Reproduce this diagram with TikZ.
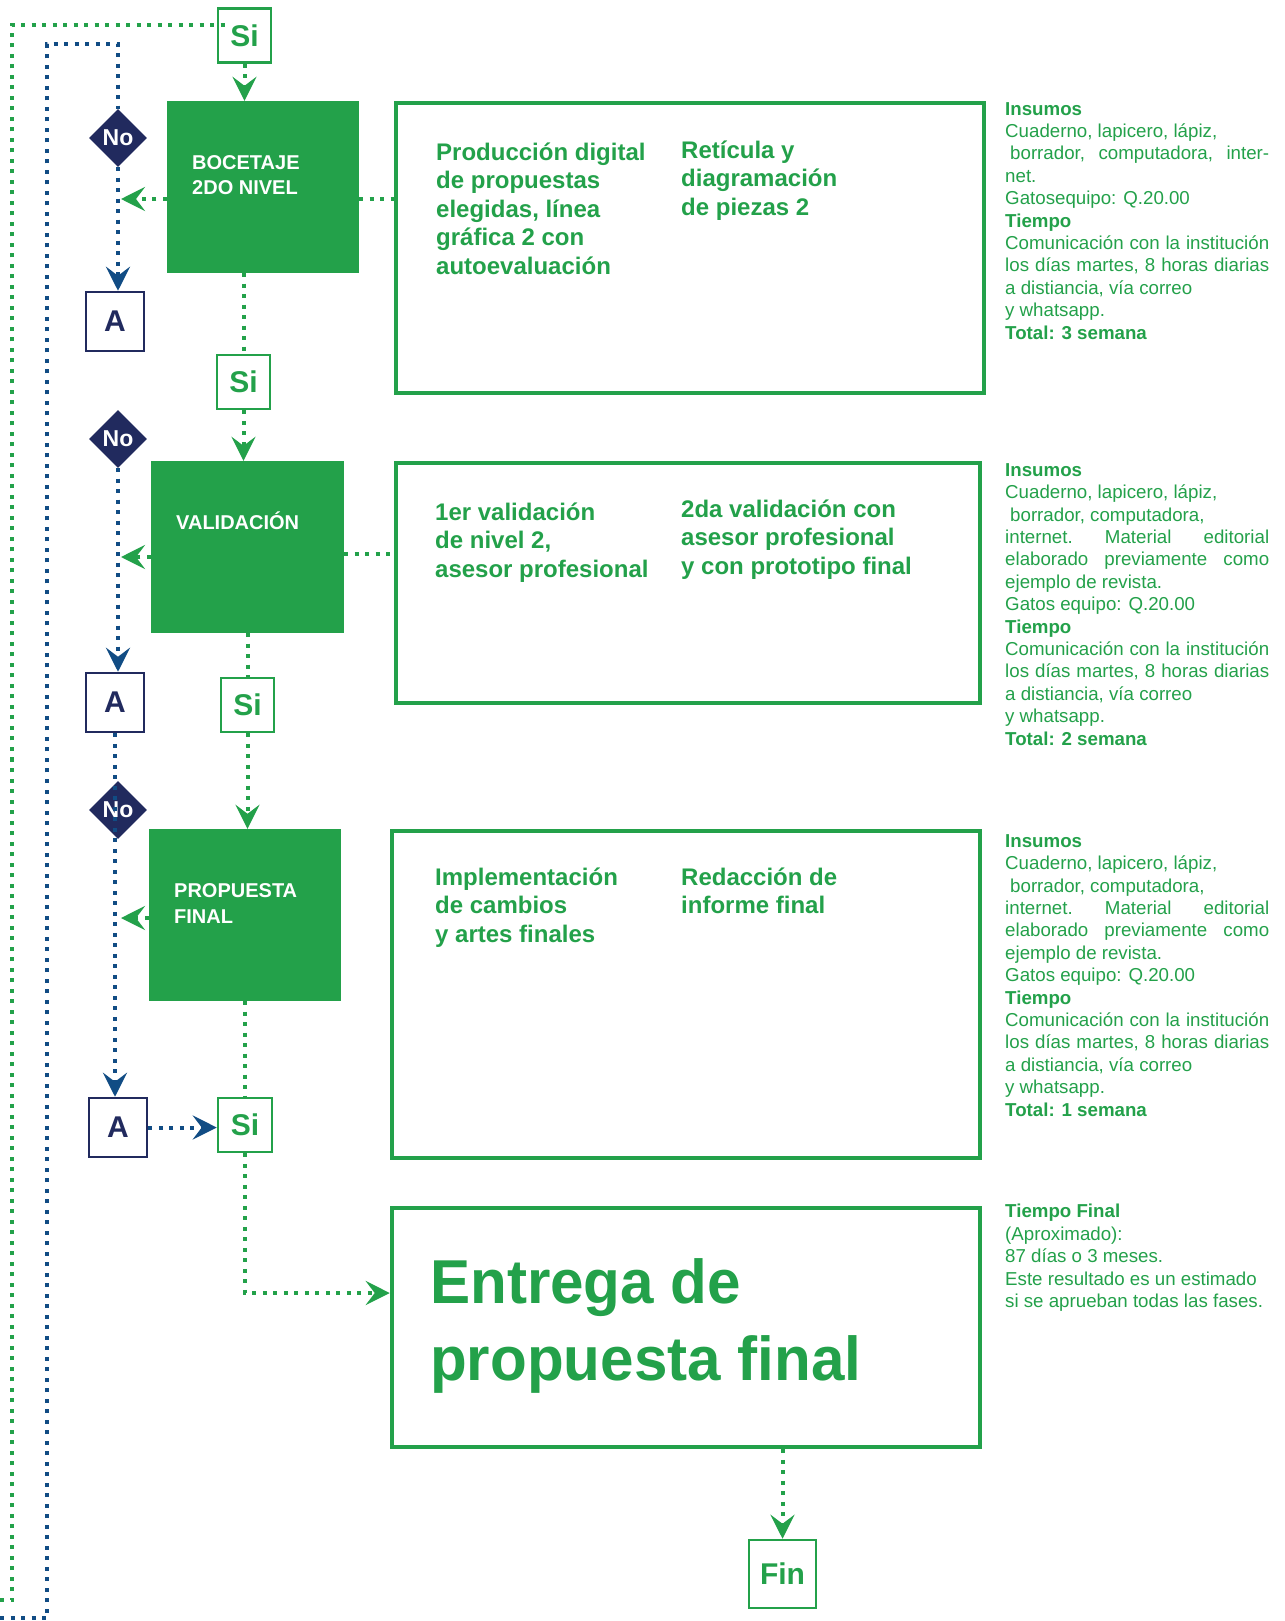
\documentclass[tikz,border=0pt]{standalone}
\usepackage{fontspec}
\setmainfont{Liberation Sans}
\newfontfamily\headlinefont[FakeStretch=0.97]{Liberation Sans}
\usetikzlibrary{shapes.geometric,arrows.meta}
\definecolor{G}{HTML}{23A14A}
\definecolor{NV}{HTML}{212A5E}
\definecolor{BL}{HTML}{114C84}

\begin{document}
\begin{tikzpicture}[x=1bp,y=-1bp,
  gdot/.style={draw=G, line width=4bp, dash pattern=on 4bp off 6.5bp},
  bdot/.style={draw=BL, line width=4bp, dash pattern=on 4bp off 6.5bp},
  gtip/.style={-{Stealth[length=24bp,width=24bp,inset=9bp]}},
  stage/.style={fill=G, inner sep=0, minimum width=192bp, minimum height=172bp},
  stagelabel/.style={text=white, font=\fontsize{20bp}{25.5bp}\selectfont\bfseries, align=left, inner sep=0, anchor=base west},
  sibox/.style={draw=G, line width=2.5bp, text=G, font=\fontsize{30bp}{36bp}\selectfont\bfseries, minimum width=53bp, minimum height=54bp, inner sep=0},
  abox/.style={draw=NV, line width=2.5bp, text=NV, font=\fontsize{30bp}{36bp}\selectfont\bfseries, minimum width=58bp, minimum height=59bp, inner sep=0},
  nod/.style={diamond, fill=NV, text=white, font=\fontsize{23bp}{27bp}\selectfont\bfseries, minimum width=58bp, minimum height=58bp, inner sep=0},
  panel/.style={draw=G, line width=4.5bp, inner sep=0},
  ptext/.style={text=G, font=\fontsize{24bp}{28.5bp}\selectfont\bfseries, align=left, inner sep=0, anchor=base west},
  side/.style={text=G, font=\fontsize{18.7bp}{22.4bp}\selectfont, align=left, inner sep=0, anchor=base west},
]
\fill[white] (0,0) rectangle (1284,1621);
\useasboundingbox (0,0) rectangle (1284,1621);

% process stages (multi-line labels are anchored at their last baseline)
\node[stage] (bo) at (263,187) {};
\node[stagelabel] (bol) at (192,194.5) {BOCETAJE\\2DO NIVEL};
\node[stage, minimum width=193bp] (va) at (247.5,547) {};
\node[stagelabel] (val) at (176,529) {VALIDACIÓN};
\node[stage] (pr) at (245,915) {};
\node[stagelabel] (prl) at (174,923) {PROPUESTA\\FINAL};

% decisions
\node[nod] (no1) at (118,138) {No};
\node[nod] (no2) at (118,439) {No};
\node[nod] (no3) at (118,810) {No};

% yes boxes
\node[sibox] (si1) at (244.5,35.5) {Si};
\node[sibox] (si2) at (243.5,382) {Si};
\node[sibox] (si3) at (247.5,705) {Si};
\node[sibox, minimum width=54bp] (si4) at (245,1125) {Si};

% connector boxes
\node[abox] (a1) at (115,321.5) {A};
\node[abox] (a2) at (115,702.5) {A};
\node[abox] (a3) at (118,1127.5) {A};

% activity panels
\node[panel, minimum width=588bp, minimum height=290bp] (b1) at (690,248) {};
\node[panel, minimum width=584bp, minimum height=240bp] (b2) at (688,583) {};
\node[panel, minimum width=588bp, minimum height=327bp] (b3) at (686,994.5) {};
\node[panel, minimum width=588bp, minimum height=239bp] (e) at (686,1327.5) {};
\node[draw=G, line width=2.5bp, text=G, font=\fontsize{30bp}{36bp}\selectfont\bfseries, minimum width=67bp, minimum height=68bp, inner sep=0] (fin) at (782.5,1574) {Fin};

\node[ptext] (t1a) at (436,274) {Producción digital\\de propuestas\\elegidas, línea\\gráfica 2 con\\autoevaluación};
\node[ptext] (t1b) at (681,215) {Retícula y\\diagramación\\de piezas 2};
\node[ptext] (t2a) at (435,577) {1er validación\\de nivel 2,\\asesor profesional};
\node[ptext] (t2b) at (681,574) {2da validación con\\asesor profesional\\y con prototipo final};
\node[ptext] (t3a) at (435,942) {Implementación\\de cambios\\y artes finales};
\node[ptext] (t3b) at (681,913.5) {Redacción de\\informe final};
\node[text=G, font=\headlinefont\fontsize{62bp}{77bp}\selectfont\bfseries, align=left, inner sep=0, anchor=base west] (et) at (430,1380) {Entrega de\\propuesta final};

% resources and time notes
\node[side] (s1) at (1005,339) {\textbf{Insumos}\\
Cuaderno, lapicero, lápiz,\\
\hbox to 264bp{\hspace{5bp}borrador,\hfill computadora,\hfill inter-}\\
net.\\
Gatosequipo: Q.20.00\\
\textbf{Tiempo}\\
\hbox to 264bp{Comunicación\hfill con\hfill la\hfill institución}\\
\hbox to 264bp{los\hfill días\hfill martes,\hfill 8\hfill horas\hfill diarias}\\
a distiancia, vía correo\\
y whatsapp.\\
\textbf{Total: 3 semana}};

\node[side] (s2) at (1005,745) {\textbf{Insumos}\\
Cuaderno, lapicero, lápiz,\\
\hspace{5bp}borrador, computadora,\\
\hbox to 264bp{internet.\hfill Material\hfill editorial}\\
\hbox to 264bp{elaborado\hfill previamente\hfill como}\\
ejemplo de revista.\\
Gatos equipo: Q.20.00\\
\textbf{Tiempo}\\
\hbox to 264bp{Comunicación\hfill con\hfill la\hfill institución}\\
\hbox to 264bp{los\hfill días\hfill martes,\hfill 8\hfill horas\hfill diarias}\\
a distiancia, vía correo\\
y whatsapp.\\
\textbf{Total: 2 semana}};

\node[side] (s3) at (1005,1116) {\textbf{Insumos}\\
Cuaderno, lapicero, lápiz,\\
\hspace{5bp}borrador, computadora,\\
\hbox to 264bp{internet.\hfill Material\hfill editorial}\\
\hbox to 264bp{elaborado\hfill previamente\hfill como}\\
ejemplo de revista.\\
Gatos equipo: Q.20.00\\
\textbf{Tiempo}\\
\hbox to 264bp{Comunicación\hfill con\hfill la\hfill institución}\\
\hbox to 264bp{los\hfill días\hfill martes,\hfill 8\hfill horas\hfill diarias}\\
a distiancia, vía correo\\
y whatsapp.\\
\textbf{Total: 1 semana}};

\node[side] (s4) at (1005,1307.5) {\textbf{Tiempo Final}\\
(Aproximado):\\
87 días o 3 meses.\\
Este resultado es un estimado\\
si se aprueban todas las fases.};

% return paths from previous page
\coordinate (gexit) at (0,1600);
\coordinate (bexit) at (0,1618);
\draw[gdot] (gexit) -- (12,1600) -- (12,25) -- ([shift={(14,-10.5)}]si1.west);
\draw[bdot] (bexit) -- (47,1618) -- (47,44) -| (no1.north);

% stage 1
\draw[gdot, gtip] (si1.south) -- (si1.south |- bo.north);
\draw[bdot, gtip] (no1.south) -- (no1.south |- a1.north);
\coordinate (r1) at (0,199);
\draw[gdot, gtip, shorten >=3bp] (bo.west |- r1) -- (no1 |- r1);
\draw[gdot] (bo.east |- r1) -- (b1.west |- r1);
\draw[gdot] (si2.north |- bo.south) -- (si2.north);

% stage 2
\draw[gdot, gtip] (si2.south) -- (si2.south |- va.north);
\draw[bdot, gtip] (no2.south) -- (no2.south |- a2.north);
\coordinate (r2) at (0,557);
\draw[gdot, gtip, shorten >=3bp] (va.west |- r2) -- (no2 |- r2);
\coordinate (r2b) at (0,554);
\draw[gdot] (va.east |- r2b) -- (b2.west |- r2b);
\draw[gdot] (si3.north |- va.south) -- (si3.north);

% stage 3
\draw[gdot, gtip] (si3.south) -- (si3.south |- pr.north);
\draw[bdot, gtip] (a2.south) -- (a2.south |- a3.north);
\coordinate (r3) at (0,918);
\draw[gdot, gtip, shorten >=3bp] (pr.west |- r3) -- (no3 |- r3);
\draw[gdot] (si4.north |- pr.south) -- (si4.north);
\draw[bdot, gtip] (a3.east) -- (a3.east -| si4.west);

% delivery
\coordinate (r4) at (0,1293);
\draw[gdot, gtip] (si4.south) |- (e.west |- r4);
\draw[gdot, gtip] (e.south -| fin.north) -- (fin.north);
\end{tikzpicture}
\end{document}
